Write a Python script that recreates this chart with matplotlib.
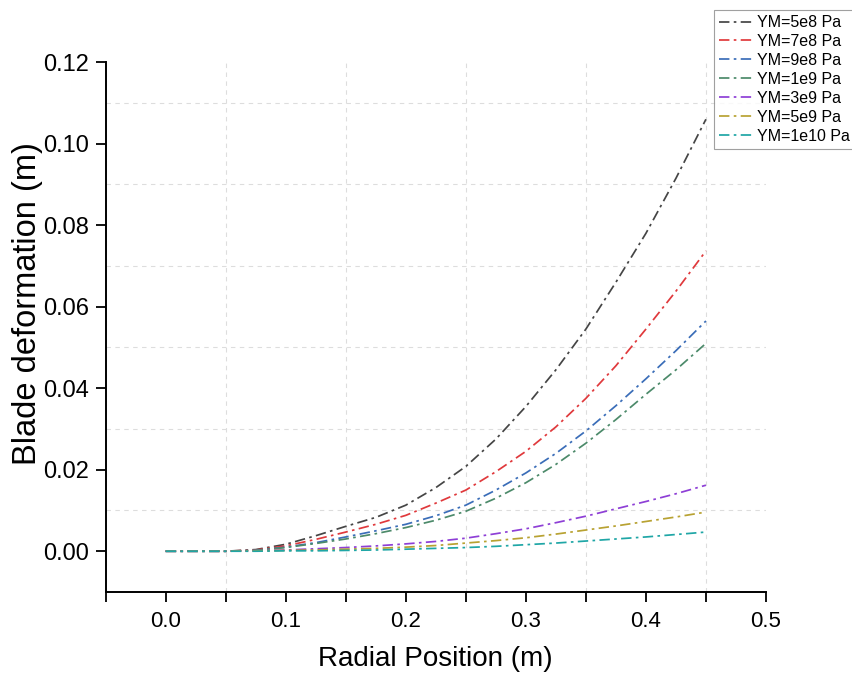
import matplotlib
matplotlib.use("Agg")
import matplotlib.pyplot as plt
from matplotlib.ticker import MultipleLocator, FormatStrFormatter

plt.rcParams['font.family'] = ['Liberation Sans', 'DejaVu Sans']

x = [0.0, 0.025, 0.05, 0.075, 0.1, 0.125, 0.15, 0.175, 0.2, 0.225,
     0.25, 0.275, 0.3, 0.325, 0.35, 0.375, 0.4, 0.425, 0.45]
labels = ["YM=5e8 Pa", "YM=7e8 Pa", "YM=9e8 Pa", "YM=1e9 Pa",
          "YM=3e9 Pa", "YM=5e9 Pa", "YM=1e10 Pa"]
ym_5e8 = [0.0, 0.0, 0.0, 0.0004, 0.0017, 0.0038, 0.0061, 0.0083, 0.0113, 0.0156,
          0.0208, 0.0275, 0.0355, 0.0445, 0.0545, 0.0660, 0.0780, 0.0915, 0.1060]
ym_7e8 = [0.0, 0.0, 0.0, 0.0003, 0.0013, 0.0029, 0.0047, 0.0066, 0.0088, 0.0118,
          0.0150, 0.0195, 0.0245, 0.0305, 0.0375, 0.0455, 0.0545, 0.0638, 0.0737]
ym_9e8 = [0.0, 0.0, 0.0, 0.0002, 0.0010, 0.0021, 0.0035, 0.0050, 0.0066, 0.0087,
          0.0113, 0.0150, 0.0192, 0.0240, 0.0295, 0.0357, 0.0423, 0.0492, 0.0565]
ym_1e9 = [0.0, 0.0, 0.0, 0.0002, 0.0009, 0.0019, 0.0030, 0.0043, 0.0058, 0.0076,
          0.0098, 0.0130, 0.0168, 0.0213, 0.0265, 0.0323, 0.0385, 0.0445, 0.0510]
ym_3e9 = [0.0, 0.0, 0.0, 0.0001, 0.0003, 0.0006, 0.0009, 0.0013, 0.0018, 0.0024,
          0.0032, 0.0043, 0.0055, 0.0070, 0.0086, 0.0104, 0.0122, 0.0141, 0.0162]
ym_5e9 = [0.0, 0.0, 0.0, 0.0001, 0.0002, 0.0003, 0.0005, 0.0007, 0.0010, 0.0014,
          0.0020, 0.0026, 0.0033, 0.0042, 0.0052, 0.0062, 0.0073, 0.0084, 0.0096]
ym_1e10 = [0.0, 0.0, 0.0, 0.0, 0.0001, 0.0001, 0.0002, 0.0003, 0.0005, 0.0007,
           0.0009, 0.0012, 0.0016, 0.0020, 0.0025, 0.0030, 0.0035, 0.0041, 0.0047]
series = [ym_5e8, ym_7e8, ym_9e8, ym_1e9, ym_3e9, ym_5e9, ym_1e10]
colors = ["#454545", "#e0393c", "#3a6db8", "#4c8a6a", "#8e3fd6", "#b8a232", "#1fa6a6"]

fig = plt.figure(figsize=(8.52, 6.77), dpi=100)
ax = fig.add_axes([0.124, 0.1256, 0.775, 0.7825])

for ys, c, lab in zip(series, colors, labels):
    ax.plot(x, ys, color=c, linestyle=(0, (6, 2.5, 1.5, 2.5)), linewidth=1.25, label=lab)

ax.set_xlim(-0.05, 0.5)
ax.set_ylim(-0.01, 0.12)
ax.xaxis.set_major_locator(MultipleLocator(0.1))
ax.yaxis.set_major_locator(MultipleLocator(0.02))
ax.xaxis.set_major_formatter(FormatStrFormatter('%.1f'))
ax.yaxis.set_major_formatter(FormatStrFormatter('%.2f'))
ax.set_xticks([-0.05, 0.05, 0.15, 0.25, 0.35, 0.45], minor=True)
ax.set_yticks([0.01, 0.03, 0.05, 0.07, 0.09, 0.11], minor=True)

ax.grid(True, which='minor', linestyle=(0, (4, 4)), color='#dddddd', linewidth=0.8)
ax.grid(False, which='major')
ax.tick_params(axis='x', which='major', direction='out', length=7, width=1.3, labelsize=16, pad=7)
ax.tick_params(axis='x', which='minor', direction='out', length=7, width=1.3)
ax.tick_params(axis='y', which='major', direction='out', length=7, width=1.3, labelsize=17, pad=5)
ax.tick_params(axis='y', which='minor', length=0)

for s in ['top', 'right']:
    ax.spines[s].set_visible(False)
for s in ['left', 'bottom']:
    ax.spines[s].set_linewidth(1.4)

ax.set_xlabel("Radial Position (m)", fontsize=20, labelpad=10)
ax.set_ylabel("Blade deformation (m)", fontsize=23.5)
ax.yaxis.set_label_coords(-0.095, 0.545)

leg = ax.legend(loc='upper left', bbox_to_anchor=(0.921, 1.098), fontsize=11.5,
                frameon=True, fancybox=False, edgecolor='#888888', handlelength=2.2,
                handletextpad=0.2, labelspacing=0.25, borderpad=0.3, borderaxespad=0)
leg.get_frame().set_linewidth(0.8)

fig.savefig("out.png", dpi=100)
